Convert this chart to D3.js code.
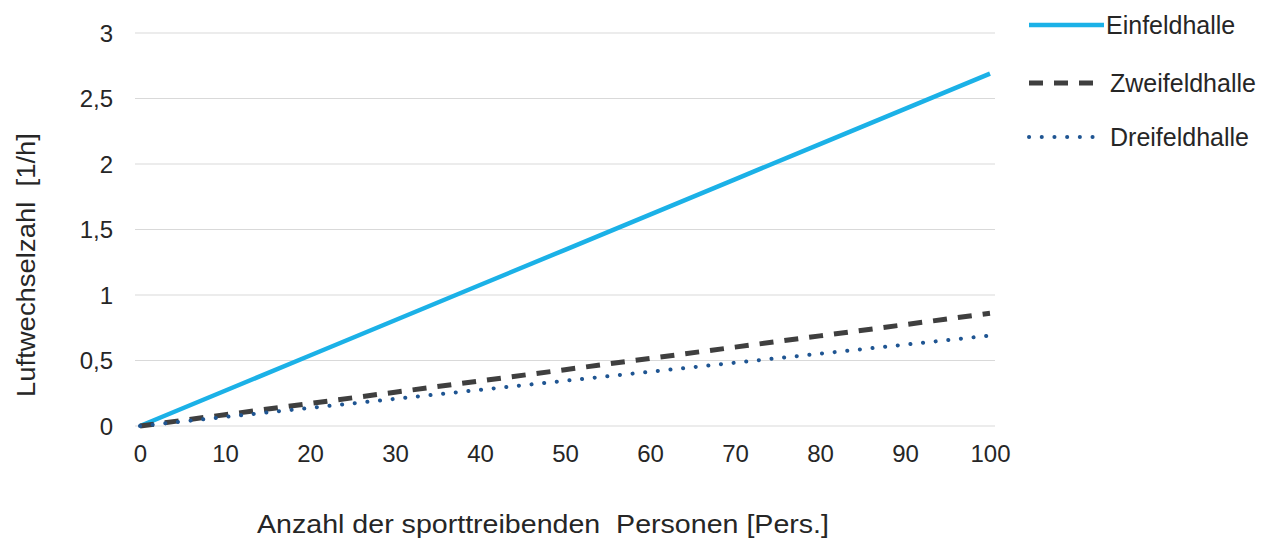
<!DOCTYPE html>
<html>
<head>
<meta charset="utf-8">
<script src="https://cdn.jsdelivr.net/npm/d3@7"></script>
<style>
  html, body { margin: 0; padding: 0; background: #fff; }
  svg { display: block; font-family: "Liberation Sans", Arial, sans-serif; }
</style>
</head>
<body>
<svg id="chart" width="1264" height="540"></svg>
<script>
// Persons in the hall (x values)
const persons = [0, 10, 20, 30, 40, 50, 60, 70, 80, 90, 100];
// Air change rate [1/h] per hall type
const einfeldhalle  = [0, 0.269, 0.538, 0.807, 1.076, 1.345, 1.614, 1.883, 2.152, 2.421, 2.69];
const zweifeldhalle = [0, 0.086, 0.172, 0.258, 0.344, 0.43, 0.516, 0.602, 0.688, 0.774, 0.86];
const dreifeldhalle = [0, 0.069, 0.138, 0.207, 0.276, 0.345, 0.414, 0.483, 0.552, 0.621, 0.69];

const seriesNames = ["Einfeldhalle", "Zweifeldhalle", "Dreifeldhalle"];
const xTicks = [0, 10, 20, 30, 40, 50, 60, 70, 80, 90, 100];
const yTicks = [0, 0.5, 1, 1.5, 2, 2.5, 3];
const xTitle = "Anzahl der sporttreibenden  Personen [Pers.]";
const yTitle = "Luftwechselzahl  [1/h]";

const svg = d3.select("#chart");

const x = d3.scaleLinear().domain([0, 100]).range([140, 990]);
const y = d3.scaleLinear().domain([0, 3]).range([426, 33]);

const fmt = v => String(v).replace(".", ",");
const textColor = "#262626";

// horizontal gridlines
svg.append("g")
  .selectAll("line")
  .data(yTicks)
  .join("line")
  .attr("x1", 135).attr("x2", 995)
  .attr("y1", d => y(d)).attr("y2", d => y(d))
  .attr("stroke", "#d9d9d9")
  .attr("stroke-width", 1.2);

// y axis labels
const yAxis = svg.append("g")
  .attr("transform", "translate(113,0)")
  .call(d3.axisLeft(y).tickValues(yTicks).tickFormat(fmt).tickSize(0).tickPadding(0));
yAxis.select(".domain").remove();
yAxis.selectAll("text")
  .attr("font-size", 24)
  .attr("font-family", "Liberation Sans, Arial, sans-serif")
  .attr("fill", textColor)
  .attr("dy", "0.35em");

// x axis labels
const xAxis = svg.append("g")
  .attr("transform", "translate(0,445)")
  .call(d3.axisBottom(x).tickValues(xTicks).tickSize(0).tickPadding(0));
xAxis.select(".domain").remove();
xAxis.selectAll("text")
  .attr("font-size", 24)
  .attr("font-family", "Liberation Sans, Arial, sans-serif")
  .attr("fill", textColor)
  .attr("dy", "0.71em");

// axis titles
svg.append("text")
  .attr("x", 543).attr("y", 533)
  .attr("text-anchor", "middle")
  .attr("font-size", 26)
  .attr("fill", textColor)
  .attr("textLength", 572)
  .attr("lengthAdjust", "spacingAndGlyphs")
  .style("white-space", "pre")
  .text(xTitle);

svg.append("text")
  .attr("transform", "translate(35,265) rotate(-90)")
  .attr("text-anchor", "middle")
  .attr("font-size", 26)
  .attr("fill", textColor)
  .attr("textLength", 264)
  .attr("lengthAdjust", "spacingAndGlyphs")
  .style("white-space", "pre")
  .text(yTitle);

// series styles
const styles = [
  { color: "#1bb1e7", width: 4.5, dash: null, cap: "butt" },
  { color: "#3f3f3f", width: 5, dash: "14,11", cap: "butt" },
  { color: "#1f5592", width: 4, dash: "0.1,12.6", cap: "round" }
];
const seriesData = [einfeldhalle, zweifeldhalle, dreifeldhalle];

const line = d3.line()
  .x((d, i) => x(persons[i]))
  .y(d => y(d));

seriesData.forEach((vals, k) => {
  const s = styles[k];
  svg.append("path")
    .datum(vals)
    .attr("d", line)
    .attr("fill", "none")
    .attr("stroke", s.color)
    .attr("stroke-width", s.width)
    .attr("stroke-linecap", s.cap)
    .attr("stroke-dasharray", s.dash);
});

// legend
const legendY = [25, 83, 137];
const legend = svg.append("g");
seriesNames.forEach((name, k) => {
  const s = styles[k];
  legend.append("line")
    .attr("x1", 1029).attr("x2", k === 0 ? 1104 : 1099)
    .attr("y1", legendY[k]).attr("y2", legendY[k])
    .attr("stroke", s.color)
    .attr("stroke-width", s.width)
    .attr("stroke-linecap", s.cap)
    .attr("stroke-dasharray", s.dash);
  legend.append("text")
    .attr("x", k === 0 ? 1106 : 1110)
    .attr("y", legendY[k])
    .attr("dy", "0.35em")
    .attr("font-size", 25)
    .attr("fill", textColor)
    .text(name);
});
</script>
</body>
</html>
